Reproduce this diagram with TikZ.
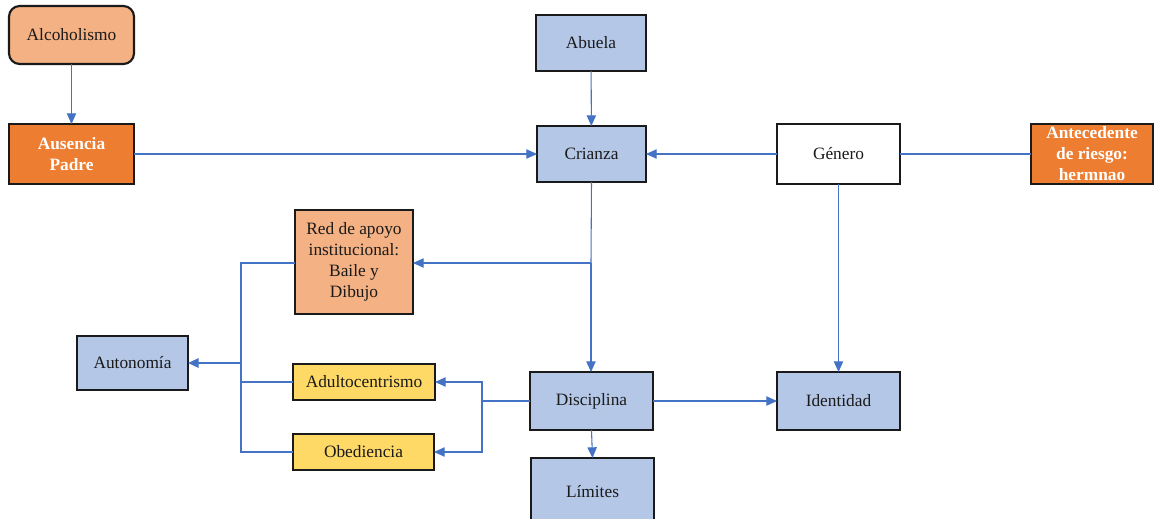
\documentclass[tikz,border=0pt]{standalone}
\usepackage{fontspec}
\setmainfont{Liberation Serif}
\usetikzlibrary{arrows.meta}
\definecolor{lineblue}{HTML}{4472C4}
\definecolor{paleblue}{HTML}{B4C7E7}
\definecolor{peach}{HTML}{F4B183}
\definecolor{deeporange}{HTML}{ED7D31}
\definecolor{butter}{HTML}{FFD966}
\definecolor{ink}{HTML}{1A1A1A}
\tikzset{
  box/.style n args={2}{draw=ink, line width=1.6pt, inner sep=1pt, outer sep=0pt,
    minimum width=#1*0.75pt, minimum height=#2*0.75pt, align=center,
    font=\fontsize{13}{15.8}\selectfont, text=ink},
  bluebox/.style={fill=paleblue},
  peachbox/.style={fill=peach},
  hotbox/.style={fill=deeporange, text=white, font=\fontsize{13}{15.8}\selectfont\bfseries},
  yellowbox/.style={fill=butter},
  link/.style={draw=lineblue, line width=0.8pt},
  arrowlink/.style={link, -{Triangle[length=8pt,width=7pt]}},
}
\begin{document}
\begin{tikzpicture}[x=0.75pt,y=-0.75pt]
\useasboundingbox (0,0) rectangle (1157,518);

% boxes
\node[box={125}{58}, peachbox, rounded corners=8pt] (alc) at (71.5,35) {Alcoholismo};
\node[box={125}{60}, hotbox] (aus) at (71.5,154) {Ausencia\\Padre};
\node[box={110}{56}, bluebox] (abu) at (591,43) {Abuela};
\node[box={109}{56}, bluebox] (cri) at (591.5,154) {Crianza};
\node[box={123}{60}, fill=white] (gen) at (838.5,154) {Género};
\node[box={122}{60}, hotbox] (ant) at (1092,154) {Antecedente\\de riesgo:\\hermnao};
\node[box={118}{104}, peachbox] (red) at (354,262) {Red de apoyo\\institucional:\\Baile y\\Dibujo};
\node[box={111}{54}, bluebox] (aut) at (132.5,363) {Autonomía};
\node[box={142}{36}, yellowbox] (adu) at (364,382) {Adultocentrismo};
\node[box={141}{36}, yellowbox] (obe) at (363.5,452) {Obediencia};
\node[box={123}{58}, bluebox] (dis) at (591.5,401) {Disciplina};
\node[box={123}{58}, bluebox] (ide) at (838.5,401) {Identidad};
\node[box={123}{68}, bluebox] (lim) at (592.5,492) {Límites};

% junction points
\coordinate (cj) at (591,263);
\coordinate (lj) at (241,363);
\coordinate (dj) at (482,401);

% connectors
\draw[arrowlink] (alc) -- (aus);
\draw[arrowlink] (aus) -- (cri);
\draw[arrowlink] (abu) -- (cri);
\draw[arrowlink] (gen) -- (cri);
\draw[link, line width=1.5pt] (gen) -- (ant);
\draw[link] (cri.south) -- (cj);
\draw[arrowlink] (cj) -- (red.east |- cj);
\draw[arrowlink] (cj) -- (dis.north -| cj);
\draw[arrowlink] (gen) -- (ide);
\draw[arrowlink] (dis) -- (ide);
\draw[arrowlink] (dis.south) -- (lim.north);
\draw[link] (dis.west) -- (dj);
\draw[arrowlink] (dj) |- (adu.east);
\draw[arrowlink] (dj) |- (obe.east);
\draw[link] (red.west |- cj) -| (lj);
\draw[link] (adu.west) -| (lj);
\draw[link] (obe.west) -| (lj);
\draw[arrowlink, line width=1.5pt] (lj) -- (aut.east);
\end{tikzpicture}
\end{document}
